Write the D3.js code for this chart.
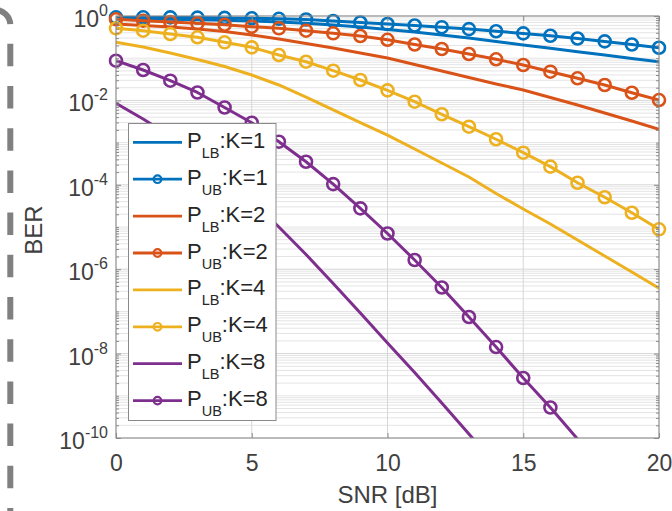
<!DOCTYPE html>
<html>
<head>
<meta charset="utf-8">
<title>BER vs SNR</title>
<script src="https://cdnjs.cloudflare.com/ajax/libs/d3/7.8.5/d3.min.js"></script>
<style>
html, body { margin: 0; padding: 0; background: #fff; }
svg { display: block; font-family: "Liberation Sans", Arial, sans-serif; }
.tick line { stroke: #8a8a8a; }
</style>
</head>
<body>
<svg id="chart" width="672" height="511"></svg>
<script>
// SNR points (dB)
var snr = [0,1,2,3,4,5,6,7,8,9,10,11,12,13,14,15,16,17,18,19,20];

// BER, one value per SNR point
var lbK1 = [0.873,0.858,0.840,0.817,0.791,0.761,0.721,0.671,0.612,0.549,0.479,0.418,0.355,0.301,0.249,0.206,0.172,0.143,0.119,0.0989,0.0826];
var ubK1 = [0.931,0.931,0.927,0.916,0.901,0.882,0.858,0.826,0.761,0.701,0.646,0.596,0.543,0.489,0.436,0.387,0.340,0.293,0.250,0.211,0.177];
var lbK2 = [0.646,0.596,0.549,0.492,0.429,0.355,0.285,0.223,0.175,0.133,0.101,0.0709,0.0497,0.0349,0.0245,0.0176,0.0117,0.00778,0.00503,0.00325,0.00207];
var ubK2 = [0.835,0.774,0.721,0.671,0.622,0.558,0.511,0.449,0.389,0.336,0.273,0.211,0.165,0.126,0.0942,0.069,0.0479,0.0334,0.0232,0.0152,0.0102];
var lbK4 = [0.238,0.184,0.133,0.0931,0.0636,0.040,0.0232,0.0120,0.00593,0.00299,0.00151,7.05e-4,3.29e-4,1.53e-4,6.22e-5,2.67e-5,1.18e-5,4.92e-6,2.06e-6,8.59e-7,3.52e-7];
var ubK4 = [0.511,0.449,0.374,0.313,0.238,0.181,0.119,0.0826,0.0506,0.0304,0.0173,0.00931,0.00469,0.00238,0.00120,5.77e-4,2.69e-4,1.12e-4,5.06e-5,2.18e-5,8.81e-6];
var lbK8 = [0.00853,0.00362,0.00143,5.08e-4,1.53e-4,4.36e-5,1.0e-5,2.23e-6,4.58e-7,9.17e-8,1.78e-8,3.56e-9,6.75e-10,1.24e-10,2.29e-11,null,null,null,null,null,null];
var ubK8 = [0.0873,0.0525,0.0293,0.0154,0.00679,0.00296,0.00105,3.52e-4,1.04e-4,2.77e-5,7.01e-6,1.65e-6,3.68e-7,7.36e-8,1.43e-8,2.64e-9,5.28e-10,9.46e-11,null,null,null];

var xTicks = [0,5,10,15,20];
var yTickExp = [0,-2,-4,-6,-8,-10];

var series = [
  {sub: "LB", k: 1, values: lbK1, color: "#0072BD", marker: false},
  {sub: "UB", k: 1, values: ubK1, color: "#0072BD", marker: true},
  {sub: "LB", k: 2, values: lbK2, color: "#D95319", marker: false},
  {sub: "UB", k: 2, values: ubK2, color: "#D95319", marker: true},
  {sub: "LB", k: 4, values: lbK4, color: "#EDB120", marker: false},
  {sub: "UB", k: 4, values: ubK4, color: "#EDB120", marker: true},
  {sub: "LB", k: 8, values: lbK8, color: "#7E2F8E", marker: false},
  {sub: "UB", k: 8, values: ubK8, color: "#7E2F8E", marker: true}
];

var svg = d3.select("#chart");
var x0 = 116, x1 = 659, yTop = 16, yBot = 438;

var x = d3.scaleLinear().domain([0, 20]).range([x0, x1]);
var y = d3.scaleLog().domain([1e-10, 1]).range([yBot, yTop]);

// dashed rounded frame on the left edge
svg.append("path")
  .attr("d", "M-4.7,10 A15,15 0 0 1 10.3,25 L10.3,540")
  .attr("fill", "none")
  .attr("stroke", "#808080")
  .attr("stroke-width", 6)
  .attr("stroke-dasharray", "22.5 19.7");

// grid
var majorY = yTickExp.map(function(e) { return Math.pow(10, e); });
var minorY = [];
for (var e = -10; e < 0; e++) {
  for (var k = 1; k <= 9; k++) {
    if (k === 1 && e % 2 === 0) continue;
    minorY.push(k * Math.pow(10, e));
  }
}

var grid = svg.append("g");
grid.selectAll(".minor").data(minorY).enter().append("line")
  .attr("x1", x0).attr("x2", x1)
  .attr("y1", function(d) { return y(d); })
  .attr("y2", function(d) { return y(d); })
  .attr("stroke", "#e4e4e4").attr("stroke-width", 1);
grid.selectAll(".major").data(majorY).enter().append("line")
  .attr("x1", x0).attr("x2", x1)
  .attr("y1", function(d) { return y(d); })
  .attr("y2", function(d) { return y(d); })
  .attr("stroke", "#d6d6d6").attr("stroke-width", 1);
grid.selectAll(".vx").data(xTicks).enter().append("line")
  .attr("x1", function(d) { return x(d); })
  .attr("x2", function(d) { return x(d); })
  .attr("y1", yTop).attr("y2", yBot)
  .attr("stroke", "#d6d6d6").attr("stroke-width", 1);

// curves
svg.append("clipPath").attr("id", "plotClip")
  .append("rect").attr("x", x0).attr("y", yTop).attr("width", x1 - x0).attr("height", yBot - yTop);

var line = d3.line()
  .defined(function(d) { return d[1] != null; })
  .x(function(d) { return x(d[0]); })
  .y(function(d) { return y(d[1]); });

series.forEach(function(s) {
  var pts = snr.map(function(v, i) { return [v, s.values[i]]; });
  svg.append("path")
    .attr("clip-path", "url(#plotClip)")
    .attr("d", line(pts))
    .attr("fill", "none")
    .attr("stroke", s.color)
    .attr("stroke-width", 3)
    .attr("stroke-linejoin", "round");
  if (s.marker) {
    svg.append("g").selectAll("circle")
      .data(pts.filter(function(d) { return d[1] != null && d[1] >= 1e-10 && d[1] <= 1; }))
      .enter().append("circle")
      .attr("cx", function(d) { return x(d[0]); })
      .attr("cy", function(d) { return y(d[1]); })
      .attr("r", 6)
      .attr("fill", "none")
      .attr("stroke", s.color)
      .attr("stroke-width", 2.6);
  }
});

// axes box and ticks
svg.append("rect")
  .attr("x", x0).attr("y", yTop).attr("width", x1 - x0).attr("height", yBot - yTop)
  .attr("fill", "none").attr("stroke", "#8a8a8a").attr("stroke-width", 1);

var xAxis = svg.append("g")
  .attr("transform", "translate(0," + yBot + ")")
  .call(d3.axisBottom(x).tickValues(xTicks).tickSizeInner(-5).tickSizeOuter(0).tickPadding(17));
xAxis.select(".domain").remove();
xAxis.selectAll("text")
  .attr("font-size", 23).attr("fill", "#404040")
  .attr("font-family", "Liberation Sans, Arial, sans-serif");

var xTop = svg.append("g")
  .attr("transform", "translate(0," + yTop + ")")
  .call(d3.axisTop(x).tickValues(xTicks).tickSizeInner(-5).tickSizeOuter(0).tickFormat(""));
xTop.select(".domain").remove();

[[d3.axisLeft, x0], [d3.axisRight, x1]].forEach(function(a) {
  var gMaj = svg.append("g").attr("transform", "translate(" + a[1] + ",0)")
    .call(a[0](y).tickValues(majorY).tickSizeInner(-5).tickSizeOuter(0).tickFormat(""));
  gMaj.select(".domain").remove();
  var gMin = svg.append("g").attr("transform", "translate(" + a[1] + ",0)")
    .call(a[0](y).tickValues(minorY).tickSizeInner(-3).tickSizeOuter(0).tickFormat(""));
  gMin.select(".domain").remove();
});

// y tick labels as 10^n
var yLab = svg.append("g").selectAll("text").data(yTickExp).enter().append("text")
  .attr("x", 108)
  .attr("y", function(d) { return y(Math.pow(10, d)) + 11; })
  .attr("text-anchor", "end")
  .attr("fill", "#404040");
yLab.append("tspan").attr("font-size", 23).text("10");
yLab.append("tspan").attr("font-size", 16).attr("dy", -11).text(function(d) { return String(d); });

// axis labels
svg.append("text")
  .attr("x", (x0 + x1) / 2).attr("y", 503)
  .attr("text-anchor", "middle").attr("font-size", 24).attr("fill", "#404040")
  .text("SNR [dB]");
svg.append("text")
  .attr("transform", "translate(42,230) rotate(-90)")
  .attr("text-anchor", "middle").attr("font-size", 24).attr("fill", "#404040")
  .text("BER");

// legend
var lg = svg.append("g");
lg.append("rect")
  .attr("x", 128.5).attr("y", 123.5).attr("width", 147.5).attr("height", 297)
  .attr("fill", "#fff").attr("stroke", "#8a8a8a").attr("stroke-width", 1);

series.forEach(function(s, i) {
  var cy = 142.3 + i * 36.9;
  lg.append("line")
    .attr("x1", 133).attr("x2", 182).attr("y1", cy).attr("y2", cy)
    .attr("stroke", s.color).attr("stroke-width", 2.8);
  if (s.marker) {
    lg.append("circle").attr("cx", 157.5).attr("cy", cy).attr("r", 3.8)
      .attr("fill", "none").attr("stroke", s.color).attr("stroke-width", 2.2);
  }
  var t = lg.append("text").attr("x", 187).attr("y", cy + 5.5).attr("fill", "#262626");
  t.append("tspan").attr("font-size", 22).text("P");
  t.append("tspan").attr("font-size", 14.5).attr("dy", 10).text(s.sub);
  t.append("tspan").attr("font-size", 22).attr("dy", -10).text(":K=" + s.k);
});
</script>
</body>
</html>
